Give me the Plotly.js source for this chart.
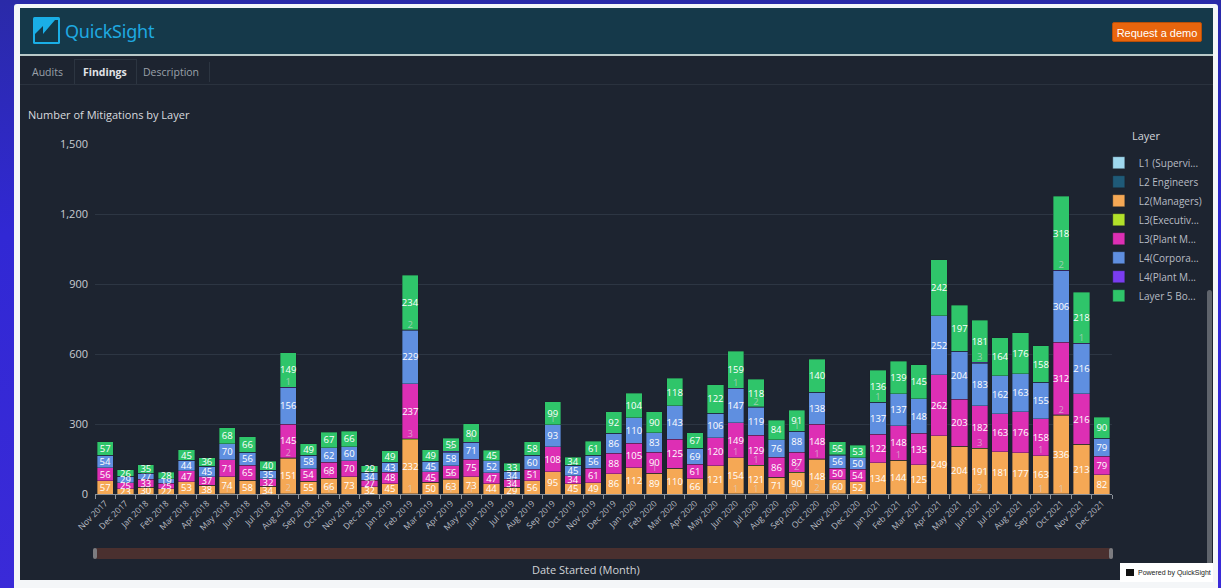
<!DOCTYPE html>
<html>
<head>
<meta charset="utf-8">
<script src="https://cdn.plot.ly/plotly-3.0.1.min.js"></script>
<style>
  html,body{margin:0;padding:0;width:1221px;height:588px;overflow:hidden;}
  body{background:linear-gradient(180deg,#2a2aa8 0%,#3128d4 40%,#3a2ad8 100%);font-family:"Open Sans","Noto Sans",sans-serif;position:relative;}
  .abs{position:absolute;}
  #frame{left:14px;top:4px;width:1204px;height:600px;background:#f4f6f8;border-radius:3px;}
  #app{left:20px;top:8px;width:1193px;height:572px;background:#1d2430;overflow:hidden;}
  #header{left:20px;top:8px;width:1193px;height:46px;background:#15394a;}
  #hline{left:20px;top:54px;width:1193px;height:2px;background:#b9c9c9;}
  #tabline{left:20px;top:84px;width:1193px;height:1px;background:#2a323e;}
  .tab{font-size:10.5px;color:#9aa1aa;top:65px;}
  #findbox{left:74px;top:59px;width:61px;height:25px;border:1px solid #2c3541;border-bottom:none;background:#1d2430;}
  #demo{left:1112px;top:22px;width:90px;height:20px;background:#e8650d;border:1px solid #b84f08;border-radius:2px;color:#fff;font-family:"Liberation Sans",Arial,sans-serif;font-size:11px;line-height:20px;text-align:center;box-sizing:border-box;}
  #logo{left:65px;top:19px;font-size:18px;color:#1fa9e1;font-family:"Noto Sans","Open Sans",sans-serif;letter-spacing:-0.2px;}
  #range{left:93px;top:548px;width:1020px;height:11px;background:#4a302f;border-radius:5px;}
  .handle{top:548px;width:4px;height:11px;background:#7c7c80;border-radius:2px;}
  #scroll{left:1207px;top:290px;width:5px;height:290px;background:#5f646c;border-radius:3px;}
  #powered{left:1120px;top:563px;width:93px;height:19px;background:#ffffff;font-family:"Liberation Sans",Arial,sans-serif;font-size:7px;color:#222;line-height:19px;}
  #chart{left:20px;top:100px;width:1193px;height:480px;}
</style>
</head>
<body>
<div id="frame" class="abs"></div>
<div id="app" class="abs"></div>
<div id="header" class="abs"></div>
<svg class="abs" style="left:33px;top:17px" width="27" height="27" viewBox="0 0 27 27">
  <rect x="0" y="0" width="27" height="27" rx="1.5" fill="#1aaee6"/>
  <polygon points="2,25 2,17 10,9 10,17 22,3 25,3 25,25" fill="#133848"/>
</svg>
<div id="logo" class="abs">QuickSight</div>
<div id="demo" class="abs">Request a demo</div>
<div id="hline" class="abs"></div>
<div id="findbox" class="abs"></div>
<div class="abs tab" style="left:32px;">Audits</div>
<div class="abs tab" style="left:83px;color:#e2e4e8;font-weight:700;">Findings</div>
<div class="abs tab" style="left:143px;">Description</div>
<div class="abs" style="left:209px;top:62px;width:1px;height:20px;background:#2c3541;"></div>
<div id="tabline" class="abs"></div>
<div id="range" class="abs"></div>
<div class="abs handle" style="left:93px;"></div>
<div class="abs handle" style="left:1109px;"></div>
<div id="scroll" class="abs"></div>
<div id="powered" class="abs"><span style="display:inline-block;width:8px;height:7px;background:#111;margin:0 4px 0 6px;vertical-align:-1px;"></span>Powered by QuickSight</div>
<div id="chart" class="abs"></div>
<script>
const months = ["Nov 2017","Dec 2017","Jan 2018","Feb 2018","Mar 2018","Apr 2018","May 2018","Jun 2018","Jul 2018","Aug 2018","Sep 2018","Oct 2018","Nov 2018","Dec 2018","Jan 2019","Feb 2019","Mar 2019","Apr 2019","May 2019","Jun 2019","Jul 2019","Aug 2019","Sep 2019","Oct 2019","Nov 2019","Dec 2019","Jan 2020","Feb 2020","Mar 2020","Apr 2020","May 2020","Jun 2020","Jul 2020","Aug 2020","Sep 2020","Oct 2020","Nov 2020","Dec 2020","Jan 2021","Feb 2021","Mar 2021","Apr 2021","May 2021","Jun 2021","Jul 2021","Aug 2021","Sep 2021","Oct 2021","Nov 2021","Dec 2021"];

const l1Supervisor = [0,0,0,0,0,0,1,0,0,2, 0,1,0,0,0,1,0,1,1,0, 0,0,0,0,0,0,0,0,0,0, 0,1,1,0,1,2,1,0,0,0, 0,0,0,2,0,0,1,1,0,0];
const l2Engineers  = [0,0,0,0,0,0,0,0,0,0, 0,0,0,0,0,0,0,0,0,0, 0,0,0,0,0,0,0,0,0,0, 0,0,0,0,0,0,0,0,0,0, 0,0,0,0,0,0,0,0,0,0];
const l2Managers   = [57,23,30,22,53,38,74,58,34,151, 55,66,73,32,45,232,50,63,73,44, 29,56,95,45,49,86,112,89,110,66, 121,154,121,71,90,148,60,52,134,144, 125,249,204,191,181,177,163,336,213,82];
const l3Executive  = [0,0,0,0,0,0,0,0,0,2, 0,1,0,0,0,3,0,2,0,0, 1,0,0,0,0,0,0,1,0,0, 0,1,1,0,2,1,0,0,0,1, 0,0,0,3,0,0,1,2,0,0];
const l3PlantMgr   = [56,25,33,25,47,37,71,65,32,145, 54,68,70,27,48,237,45,56,75,47, 34,51,108,34,61,88,105,90,125,61, 120,149,129,86,87,148,50,54,122,148, 135,262,203,182,163,176,158,312,216,79];
const l4Corporate  = [54,29,27,19,44,45,70,56,35,156, 58,62,60,34,43,229,45,58,71,52, 34,60,93,45,56,86,110,83,143,69, 106,147,119,76,88,138,56,50,137,137, 148,252,204,183,162,163,155,306,216,79];
const l4PlantMgr   = [0,0,0,0,0,0,0,0,0,1, 0,0,0,0,0,2,0,3,1,0, 0,0,1,0,0,0,0,0,0,0, 0,1,2,0,1,0,1,0,1,0, 0,0,0,3,0,0,0,2,1,0];
const layer5Board  = [57,26,35,28,45,36,68,66,40,149, 49,67,66,29,49,234,49,55,80,45, 33,58,99,34,61,92,104,90,118,67, 122,159,118,84,91,140,55,53,136,139, 145,242,197,181,164,176,158,318,218,90];

const seriesNames = ["L1 (Supervi...","L2 Engineers","L2(Managers)","L3(Executiv...","L3(Plant M...","L4(Corpora...","L4(Plant M...","Layer 5 Bo..."];
const seriesValues = [l1Supervisor,l2Engineers,l2Managers,l3Executive,l3PlantMgr,l4Corporate,l4PlantMgr,layer5Board];
const seriesColors = ["#9fd8ee","#1f5a78","#f5a855","#b2e12a","#dd2fb4","#5f8fe0","#7a3cf0","#2fc56a"];
const smallSeries  = [true,true,false,true,false,false,true,false];

const traces = seriesValues.map((vals,i)=>({
  type:'bar',
  name:seriesNames[i],
  x:months,
  y:vals,
  text:smallSeries[i]?vals.map(()=>''):vals.map(v=>v?String(v):''),
  textposition:smallSeries[i]?'none':'inside',
  insidetextanchor:'middle',
  constraintext:'none',
  textangle:0,
  textfont:{family:'"Open Sans", sans-serif',size:9.5,color:'#ffffff'},
  marker:{color:seriesColors[i],line:{color:'rgba(25,30,40,0.45)',width:0.8}},
  hoverinfo:'x+y+name'
}));

// labels of the thin segments, placed at their stacked data position and drawn above all bars
const cumBase = months.map(()=>0);
seriesValues.forEach((vals,i)=>{
  if(smallSeries[i] && vals.some(v=>v>0)){
    traces.push({
      type:'scatter',mode:'text',showlegend:false,hoverinfo:'skip',cliponaxis:false,
      x:months,
      y:vals.map((v,k)=>v?cumBase[k]+v/2:null),
      text:vals.map(v=>v?String(v):''),
      textposition:'top center',
      textfont:{family:'"Open Sans", sans-serif',size:9.5,color:'rgba(215,215,215,0.65)'}
    });
  }
  vals.forEach((v,k)=>{cumBase[k]+=v;});
});

const layout = {
  barmode:'stack',
  bargap:0.2,
  width:1193,height:480,
  margin:{l:75,r:101,t:44,b:86,autoexpand:false},
  paper_bgcolor:'rgba(0,0,0,0)',
  plot_bgcolor:'rgba(0,0,0,0)',
  font:{family:'"Open Sans", sans-serif',color:'#c8ccd2'},
  title:{text:'Number of Mitigations by Layer',x:0.0067,xanchor:'left',xref:'container',y:0.969,yref:'container',yanchor:'middle',font:{size:11,color:'#d8dadf'}},
  xaxis:{type:'category',range:[-0.5,49.5],autorange:false,tickangle:-45,tickfont:{size:8.5,color:'#b9bdc4'},ticks:'outside',tickson:'boundaries',ticklen:4,tickcolor:'#8a9098',showline:true,linecolor:'#8a9098',linewidth:1,showgrid:false,automargin:false,fixedrange:true},
  yaxis:{range:[0,1500],autorange:false,dtick:300,tickformat:',d',tickfont:{size:11,color:'#c8ccd2'},gridcolor:'#2d3643',gridwidth:1,zeroline:false,ticks:'',ticklabelstandoff:6,automargin:false,fixedrange:true},
  legend:{x:0.987,xanchor:'left',y:0.988,yanchor:'top',traceorder:'normal',font:{size:10,color:'#b8bcc4'},bgcolor:'rgba(0,0,0,0)',itemclick:false,itemdoubleclick:false},
  annotations:[
    {text:'Date Started (Month)',xref:'paper',yref:'paper',x:0.483,y:-0.217,xanchor:'center',yanchor:'middle',showarrow:false,font:{size:11,color:'#d0d3d8'}},
    {text:'Layer',xref:'paper',yref:'paper',x:1.0177,y:1.0229,xanchor:'left',yanchor:'middle',showarrow:false,font:{size:11,color:'#d2d5da'}}
  ],
  showlegend:true
};

Plotly.newPlot('chart',traces,layout,{displayModeBar:false,staticPlot:true});
</script>
</body>
</html>
